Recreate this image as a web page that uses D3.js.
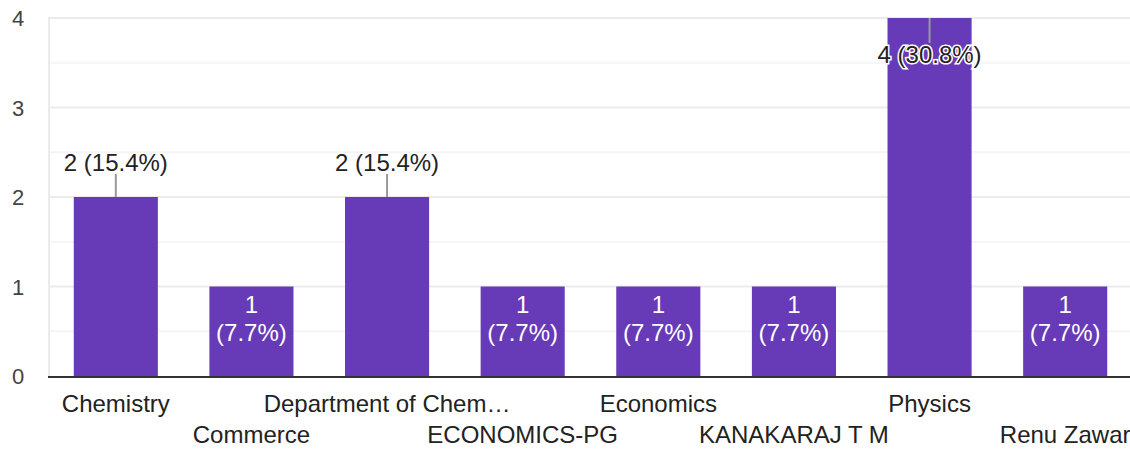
<!DOCTYPE html>
<html>
<head>
<meta charset="utf-8">
<script src="https://cdn.jsdelivr.net/npm/d3@7"></script>
<style>
  body { margin: 0; background: #fff; }
  text { font-family: "Liberation Sans", Arial, sans-serif; }
</style>
</head>
<body>
<div class="chart"></div>
<script>
// answers per department
var categories = ["Chemistry", "Commerce", "Department of Chem\u2026", "ECONOMICS-PG",
                  "Economics", "KANAKARAJ T M", "Physics", "Renu Zawar"];
var counts = [2, 1, 2, 1, 1, 1, 4, 1];
var percents = ["15.4%", "7.7%", "15.4%", "7.7%", "7.7%", "7.7%", "30.8%", "7.7%"];
var yTicks = [0, 1, 2, 3, 4];
var yMinor = [0.5, 1.5, 2.5, 3.5];

var width = 1130, height = 450;
var margin = {top: 18, left: 48, bottom: 74};

var svg = d3.select(".chart")
            .append("svg")
            .attr("width", width)
            .attr("height", height);

var x = d3.scaleBand()
          .domain(categories)
          .range([margin.left, 1133])
          .paddingInner(0.38)
          .paddingOuter(0.19);

var y = d3.scaleLinear()
          .domain([0, 4])
          .range([height - margin.bottom, margin.top]);

// minor gridlines
svg.append("g")
   .selectAll("line")
   .data(yMinor)
   .enter()
   .append("line")
   .attr("x1", margin.left).attr("x2", width)
   .attr("y1", function(d) { return y(d); })
   .attr("y2", function(d) { return y(d); })
   .style("stroke", "#f5f5f5")
   .style("stroke-width", 2);

// major gridlines
svg.append("g")
   .selectAll("line")
   .data(yTicks.slice(1))
   .enter()
   .append("line")
   .attr("x1", margin.left).attr("x2", width)
   .attr("y1", function(d) { return y(d); })
   .attr("y2", function(d) { return y(d); })
   .style("stroke", "#ebebeb")
   .style("stroke-width", 2);

// left vertical line
svg.append("line")
   .attr("x1", margin.left + 1).attr("x2", margin.left + 1)
   .attr("y1", y(4)).attr("y2", y(0))
   .style("stroke", "#ebebeb")
   .style("stroke-width", 2);

// y tick labels
svg.append("g")
   .selectAll("text")
   .data(yTicks)
   .enter()
   .append("text")
   .attr("x", 18)
   .attr("y", function(d) { return y(d) + 8; })
   .attr("text-anchor", "middle")
   .style("font-size", "22px")
   .style("fill", "#444")
   .text(function(d) { return d; });

// bars
svg.append("g")
   .selectAll("rect")
   .data(counts)
   .enter()
   .append("rect")
   .attr("x", function(d, i) { return x(categories[i]); })
   .attr("y", function(d) { return y(d); })
   .attr("width", x.bandwidth())
   .attr("height", function(d) { return y(0) - y(d); })
   .attr("fill", "#673ab7");

// baseline
svg.append("line")
   .attr("x1", margin.left).attr("x2", width)
   .attr("y1", y(0) + 1).attr("y2", y(0) + 1)
   .style("stroke", "#333")
   .style("stroke-width", 2);

// x labels, alternating rows
svg.append("g")
   .selectAll("text")
   .data(categories)
   .enter()
   .append("text")
   .attr("x", function(d) { return x(d) + x.bandwidth() / 2; })
   .attr("y", function(d, i) { return i % 2 === 0 ? 412 : 443; })
   .attr("text-anchor", "middle")
   .style("font-size", "24px")
   .style("fill", "#222")
   .text(function(d) { return d; });

// value labels
var labels = svg.append("g");
counts.forEach(function(c, i) {
  var cx = x(categories[i]) + x.bandwidth() / 2;
  if (c === 1) {
    // inside the bar, white, two lines
    labels.append("text")
          .attr("x", cx).attr("y", y(c) + 26)
          .attr("text-anchor", "middle")
          .style("font-size", "24px").style("fill", "#fff")
          .text(c);
    labels.append("text")
          .attr("x", cx).attr("y", y(c) + 54)
          .attr("text-anchor", "middle")
          .style("font-size", "24px").style("fill", "#fff")
          .text("(" + percents[i] + ")");
  } else if (c === 4) {
    // top of chart, leader down into bar, label with halo
    labels.append("line")
          .attr("x1", cx).attr("x2", cx)
          .attr("y1", y(c)).attr("y2", y(c) + 25)
          .style("stroke", "#999").style("stroke-width", 2);
    labels.append("text")
          .attr("x", cx).attr("y", y(c) + 45)
          .attr("text-anchor", "middle")
          .style("font-size", "24px").style("fill", "#222")
          .style("stroke", "#fff").style("stroke-width", 3)
          .style("paint-order", "stroke")
          .text(c + " (" + percents[i] + ")");
  } else {
    labels.append("line")
          .attr("x1", cx).attr("x2", cx)
          .attr("y1", y(c)).attr("y2", y(c) - 23)
          .style("stroke", "#999").style("stroke-width", 2);
    labels.append("text")
          .attr("x", cx).attr("y", y(c) - 26)
          .attr("text-anchor", "middle")
          .style("font-size", "24px").style("fill", "#222")
          .text(c + " (" + percents[i] + ")");
  }
});
</script>
</body>
</html>
